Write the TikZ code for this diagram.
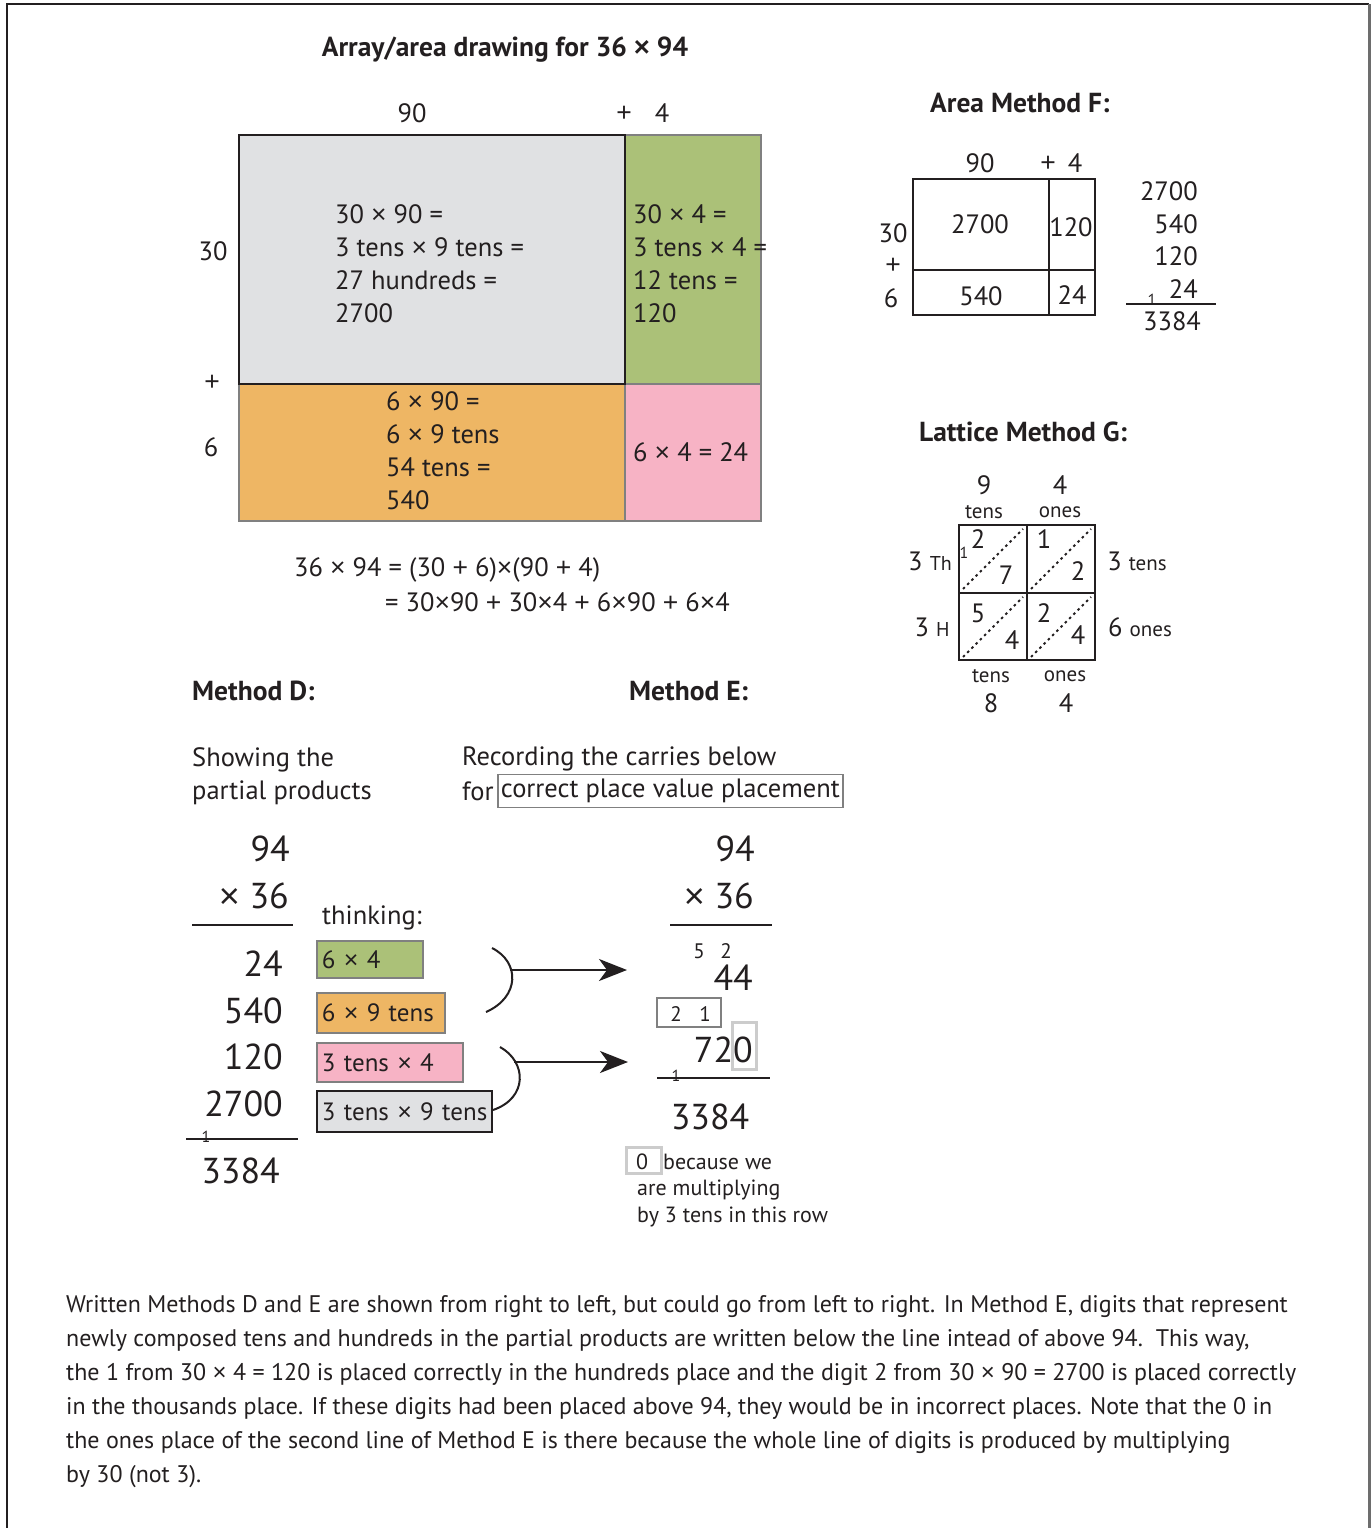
\documentclass[tikz,border=0pt]{standalone}
\usepackage{fontspec}
\setmainfont{PT Sans}
\newfontfamily\symfont{Liberation Sans}
\usetikzlibrary{
	arrows.meta,
	positioning,
	calc
}
\definecolor{inkdark}{RGB}{35,31,32}
\definecolor{edgegray}{RGB}{128,128,128}
\definecolor{lightedge}{RGB}{204,204,204}
\definecolor{cellgray}{RGB}{224,225,227}
\definecolor{cellgreen}{RGB}{171,193,120}
\definecolor{cellorange}{RGB}{238,182,100}
\definecolor{cellpink}{RGB}{247,179,197}
\newcommand{\tms}{{\symfont ×}}
\newcommand{\pls}{{\symfont +}}

\begin{document}
\begin{tikzpicture}[
			x=1pt, y=-1pt,
			lbl/.style={inner sep=0pt, text=inkdark, font=\fontsize{26.5}{33}\selectfont},
			head/.style={lbl, font=\fontsize{27.5}{33}\selectfont\bfseries},
			cell/.style={lbl, anchor=west, align=left, font=\fontsize{26.5}{33}\selectfont},
			big/.style={lbl, anchor=east, font=\fontsize{36}{44}\selectfont},
			tiny/.style={lbl, font=\fontsize{16}{18}\selectfont},
			smalltxt/.style={lbl, font=\fontsize{21}{22}\selectfont},
			note/.style={lbl, anchor=west, align=left, font=\fontsize{22}{27}\selectfont},
			think/.style={
				draw=edgegray, line width=1.8pt, anchor=north west,
				inner xsep=5pt, inner ysep=0pt, align=left,
				text=inkdark, font=\fontsize{25}{30}\selectfont
			},
			celledge/.style={draw=edgegray, line width=2pt},
			gridline/.style={draw=inkdark, line width=2.2pt},
			sumrule/.style={draw=inkdark, line width=2.5pt},
			link/.style={-{Stealth[length=28pt, width=22pt, inset=8pt]}, draw=inkdark, line width=2.2pt},
			brace/.style={draw=inkdark, line width=2pt},
			dotdiag/.style={draw=inkdark, dash pattern=on 2.5pt off 3.5pt, line width=2pt}
			]
			
			% ---------------- frame ----------------
			\useasboundingbox (0,0) rectangle (1371,1528);
			\draw[draw=inkdark, line width=2pt] (7,1528) -- (7,4) -- (1369,4);
			\draw[draw=edgegray!85!black, line width=3pt] (1369,4) -- (1369,1528);
			
			% ---------------- array / area drawing ----------------
			\node[head] (arrTitle) at (505,50) {Array/area drawing for 36 \tms{} 94};
			
			\fill[cellgreen] (625,135) rectangle (761,384);
			\fill[cellorange] (239,384) rectangle (625,521);
			\fill[cellpink] (625,384) rectangle (761,521);
			\draw[celledge] (625,135) rectangle (761,521);
			\draw[celledge] (239,384) rectangle (761,521);
			\filldraw[fill=cellgray, draw=inkdark, line width=2.2pt] (239,135) rectangle (625,384);
			
			\node[lbl] (topNinety) at (412,113) {90};
			\node[lbl] (topPlus) at (624,114) {\pls};
			\node[lbl] (topFour) at (662,113) {4};
			\node[lbl] (sideThirty) at (213,251) {30};
			\node[lbl] (sidePlus) at (212,383) {\pls};
			\node[lbl] (sideSix) at (211,447) {6};
			
			\node[cell] (cellTens) at (335,264) {30 \tms{} 90 =\\3 tens \tms{} 9 tens =\\27 hundreds =\\2700};
			\node[cell] (cellGreen) at (633,264) {30 \tms{} 4 =\\3 tens \tms{} 4 =\\12 tens =\\120};
			\node[cell] (cellOrange) at (386,451) {6 \tms{} 90 =\\6 \tms{} 9 tens\\54 tens =\\540};
			\node[cell] (cellPink) at (633,452) {6 \tms{} 4 = 24};
			
			\node[lbl, anchor=west] (eqOne) at (294,570) {36 \tms{} 94 = (30 \pls{} 6)\tms(90 \pls{} 4)};
			\node[lbl, anchor=west] (eqTwo) at (385,602) {= 30\tms90 \pls{} 30\tms4 \pls{} 6\tms90 \pls{} 6\tms4};
			
			% ---------------- area method F ----------------
			\node[head, anchor=west] (fTitle) at (930,103) {Area Method F:};
			
			\draw[gridline] (913,179) rectangle (1095,315);
			\draw[gridline] (1049,179) -- (1049,315);
			\draw[gridline] (913,270) -- (1095,270);
			
			\node[lbl] (fNinety) at (980,163) {90};
			\node[lbl] (fPlus) at (1048,164) {\pls};
			\node[lbl] (fFour) at (1075,163) {4};
			\node[lbl] (fThirty) at (893,233) {30};
			\node[lbl] (fSidePlus) at (893,266) {\pls};
			\node[lbl] (fSix) at (891,298) {6};
			
			\node[lbl] (fBig) at (980,224) {2700};
			\node[lbl] (fRight) at (1071,227) {120};
			\node[lbl] (fLow) at (981,296) {540};
			\node[lbl] (fCorner) at (1072,295) {24};
			
			\foreach \v/\y/\n in {2700/191/fSumA, 540/224/fSumB, 120/256/fSumC, 24/289/fSumD}
				\node[lbl, anchor=east] (\n) at (1198,\y) {\v};
			\draw[sumrule] (1126,304) -- (1216,304);
			\node[tiny] (fCarry) at (1152,300) {1};
			\node[lbl] (fTotal) at (1172,321) {3384};
			
			% ---------------- lattice method G ----------------
			\node[head, anchor=west] (gTitle) at (919,432) {Lattice Method G:};
			
			\draw[gridline] (959,525) rectangle (1095,660);
			\draw[gridline] (1027,525) -- (1027,660);
			\draw[gridline] (959,593) -- (1095,593);
			\foreach \cx/\cy in {959/525, 1027/525, 959/593, 1027/593}
				\draw[dotdiag] (\cx+4,\cy+64) -- (\cx+64,\cy+4);
			
			\node[lbl] (gNine) at (984,485) {9};
			\node[smalltxt] (gNineTens) at (984,512) {tens};
			\node[lbl] (gFour) at (1060,485) {4};
			\node[smalltxt] (gFourOnes) at (1060,512) {ones};
			\node[lbl] (gThreeTh) at (930,561) {3 {\fontsize{20}{22}\selectfont Th}};
			\node[lbl] (gThreeH) at (932,627) {3 {\fontsize{20}{22}\selectfont H}};
			\node[lbl] (gThreeTens) at (1137,561) {3 {\fontsize{21}{22}\selectfont tens}};
			\node[lbl] (gSixOnes) at (1140,627) {6 {\fontsize{21}{22}\selectfont ones}};
			\node[smalltxt] (gLowTens) at (991,676) {tens};
			\node[lbl] (gEight) at (991,703) {8};
			\node[smalltxt] (gLowOnes) at (1065,676) {ones};
			\node[lbl] (gLowFour) at (1066,703) {4};
			
			\node[lbl] (gTwoA) at (978,539) {2};
			\node[lbl] (gSeven) at (1006,575) {7};
			\node[tiny] (gCarry) at (964,553) {1};
			\node[lbl] (gOne) at (1044,539) {1};
			\node[lbl] (gTwoB) at (1078,571) {2};
			\node[lbl] (gFive) at (978,613) {5};
			\node[lbl] (gFourA) at (1012,640) {4};
			\node[lbl] (gTwoC) at (1044,613) {2};
			\node[lbl] (gFourB) at (1078,635) {4};
			
			% ---------------- method D ----------------
			\node[head, anchor=west] (dTitle) at (192,691) {Method D:};
			\node[lbl, anchor=west, align=left] (dNote) at (192,776) {Showing the\\partial products};
			
			\node[big] (dTop) at (290,849) {94};
			\node[big] (dMul) at (289,896) {\tms{} 36};
			\draw[sumrule] (192,925) -- (293,925);
			\foreach \v/\y/\n in {24/964/dRowA, 540/1011/dRowB, 120/1057/dRowC, 2700/1104/dRowD}
				\node[big] (\n) at (283,\y) {\v};
			\draw[sumrule] (186,1139) -- (298,1139);
			\node[tiny] (dCarry) at (206,1137) {1};
			\node[big] (dTotal) at (280,1171) {3384};
			
			\node[lbl, anchor=west] (dThink) at (322,918) {thinking:};
			\node[think, fill=cellgreen, text width=96pt, minimum height=37pt] (thinkA) at (316,940) {\mbox{6 \tms{} 4}};
			\node[think, fill=cellorange, text width=118pt, minimum height=40pt] (thinkB) at (316,992) {\mbox{6 \tms{} 9 tens}};
			\node[think, fill=cellpink, text width=136pt, minimum height=39pt] (thinkC) at (316,1042) {\mbox{3 tens \tms{} 4}};
			\node[think, fill=cellgray, draw=inkdark, text width=165pt, minimum height=41pt] (thinkD) at (316,1090) {\mbox{3 tens \tms{} 9 tens}};
			
			% braces and arrows to method E
			\coordinate (braceA) at (510,970);
			\coordinate (tipA) at (627,970);
			\coordinate (braceB) at (514,1062);
			\coordinate (tipB) at (628,1062);
			\draw[brace] (492,948) .. controls (520,962) and (520,997) .. (486,1012);
			\draw[brace] (500,1047) .. controls (527,1062) and (528,1098) .. (493,1110);
			\draw[link] (braceA) -- (tipA);
			\draw[link] (braceB) -- (tipB);
			
			% ---------------- method E ----------------
			\node[head, anchor=west] (eTitle) at (629,691) {Method E:};
			\node[lbl, anchor=west] (eNoteA) at (462,759) {Recording the carries below};
			\node[lbl, anchor=west] (eNoteB) at (462,791) {for};
			\node[lbl, anchor=west, draw=edgegray, line width=1.8pt, inner xsep=3pt, minimum height=33pt] (ePlace) at (497,791) {correct place value placement};
			
			\node[big] (eTop) at (755,849) {94};
			\node[big] (eMul) at (754,896) {\tms{} 36};
			\draw[sumrule] (670,925) -- (772,925);
			\node[smalltxt] (eCarryA) at (699,951) {5};
			\node[smalltxt] (eCarryB) at (726,951) {2};
			\node[big] (eRowA) at (753,978) {44};
			\draw[draw=edgegray, line width=1.8pt] (657,998) rectangle (721,1027);
			\node[smalltxt] (eCarryC) at (676,1014) {2};
			\node[smalltxt] (eCarryD) at (705,1014) {1};
			\node[big] (eRowB) at (753,1050) {720};
			\draw[draw=lightedge, line width=3pt] (732,1022) rectangle (756,1069);
			\draw[sumrule] (657,1078) -- (770,1078);
			\node[tiny] (eCarryE) at (676,1076) {1};
			\node[big, anchor=center] (eTotal) at (710,1117) {3384};
			
			\draw[draw=lightedge, line width=3pt] (626,1147) rectangle (661,1173);
			\node[note, anchor=center] (eZero) at (642,1162) {0};
			\node[note] (eWhy) at (663,1162) {because we};
			\node[note] (eWhyB) at (637,1203) {are multiplying\\by 3 tens in this row};
			
			% ---------------- explanation ----------------
			\node[lbl, anchor=north west, align=left, font=\fontsize{24}{34}\selectfont] (footText) at (66,1295) {Written Methods D and E are shown from right to left, but could go from left to right. In Method E, digits that represent\\newly composed tens and hundreds in the partial products are written below the line intead of above 94.\ \ This way,\\the 1 from 30 \tms{} 4 = 120 is placed correctly in the hundreds place and the digit 2 from 30 \tms{} 90 = 2700 is placed correctly\\in the thousands place. If these digits had been placed above 94, they would be in incorrect places. Note that the 0 in\\the ones place of the second line of Method E is there because the whole line of digits is produced by multiplying\\by 30 (not 3).};
		\end{tikzpicture}
\end{document}
